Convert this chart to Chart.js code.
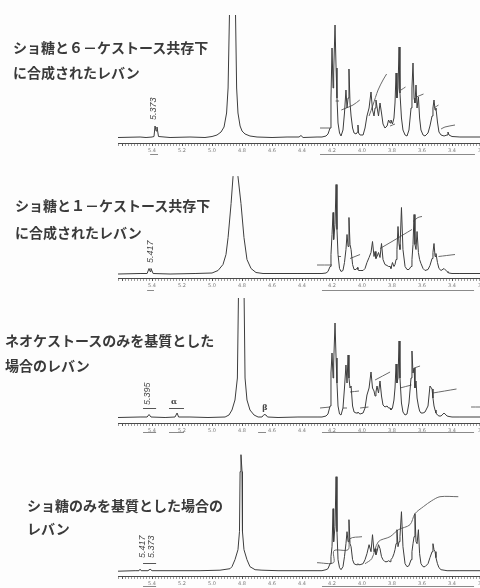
<!DOCTYPE html>
<html lang="ja">
<head>
<meta charset="utf-8">
<script src="https://cdn.jsdelivr.net/npm/chart.js@4.4.1/dist/chart.umd.min.js"></script>
<style>
  body { margin: 0; width: 480px; height: 588px; overflow: hidden; background: #fdfdfd; position: relative; }
  .ttl { position: absolute; font-family: "Noto Sans CJK JP"; font-weight: 700; font-size: 14px; line-height: 14px; color: #3a3a3a; white-space: nowrap; }
  canvas { position: absolute; left: 0; }
</style>
</head>
<body>
<canvas id="c1" width="500" height="148" style="top:15px"></canvas>
<canvas id="c2" width="500" height="122" style="top:176px"></canvas>
<canvas id="c3" width="500" height="145" style="top:298px"></canvas>
<canvas id="c4" width="500" height="148" style="top:440px"></canvas>
<script>
// panel captions
const titles1 = ['ショ糖と６－ケストース共存下', 'に合成されたレバン'];
const titles2 = ['ショ糖と１－ケストース共存下', 'に合成されたレバン'];
const titles3 = ['ネオケストースのみを基質とした', '場合のレバン'];
const titles4 = ['ショ糖のみを基質とした場合の', 'レバン'];

// chemical shift grid (ppm) of the levan region, shared by all four spectra
const levanPpm = [
  4.267, 4.240, 4.227, 4.213, 4.207, 4.200, 4.193, 4.189, 4.180, 4.173,
  4.167, 4.160, 4.150, 4.140, 4.127, 4.117, 4.107, 4.100, 4.093, 4.087,
  4.080, 4.073, 4.063, 4.053, 4.040, 4.030, 4.027, 4.023, 4.013, 3.993,
  3.980, 3.967, 3.953, 3.940, 3.930, 3.920, 3.913, 3.907, 3.900, 3.890,
  3.880, 3.870, 3.860, 3.847, 3.833, 3.823, 3.813, 3.807, 3.797, 3.787,
  3.780, 3.773, 3.767, 3.760, 3.753, 3.747, 3.737, 3.727, 3.713, 3.700,
  3.687, 3.673, 3.667, 3.660, 3.653, 3.647, 3.640, 3.633, 3.624, 3.616,
  3.607, 3.593, 3.580, 3.560, 3.547, 3.533, 3.527, 3.520, 3.513, 3.507,
  3.497, 3.487, 3.473, 3.453, 3.433, 3.427, 3.420, 3.400, 3.347, 3.213
];
// intensities on that grid
const levan1 = [
  1, 2, 4, 10, 40, 90, 50, 65, 113, 70,
  40, 15, 5, 2, 8, 25, 48, 30, 40, 69,
  35, 22, 10, 5, 4, 6, 13, 5, 3, 3,
  10, 22, 30, 46, 28, 22, 30, 38, 31, 22,
  35, 25, 14, 10, 12, 18, 15, 18, 14, 20,
  35, 65, 40, 50, 91, 45, 20, 8, 3, 2,
  8, 30, 50, 75, 40, 35, 53, 30, 41, 20,
  8, 3, 2, 5, 12, 22, 30, 38, 28, 30,
  16, 6, 3, 2, 3, 6, 3, 1.5, 1, 1
];
const levan2 = [
  1, 1.5, 3, 8, 20, 40, 62, 35, 50, 90,
  45, 20, 6, 3, 4, 12, 25, 40, 28, 57,
  30, 25, 10, 5, 5, 7, 5, 4, 4, 4,
  6, 12, 17, 22, 33, 18, 23, 16, 18, 22,
  17, 31, 15, 10, 9, 8, 8, 6, 12, 8,
  10, 15, 25, 48, 30, 25, 67, 25, 8, 5,
  5, 8, 15, 30, 60, 30, 25, 43, 22, 15,
  11, 6, 4, 5, 9, 16, 22, 31, 18, 21,
  12, 6, 4, 6, 3, 2, 1.5, 1, 1, 1
];
const levan3 = [
  1, 2, 4, 12, 45, 65, 40, 55, 95, 60,
  35, 12, 4, 3, 10, 30, 53, 35, 63, 40,
  30, 32, 12, 6, 5, 5, 6, 5, 4, 5,
  10, 23, 30, 46, 30, 27, 22, 26, 32, 25,
  37, 22, 13, 11, 12, 10, 10, 8, 10, 18,
  30, 54, 35, 40, 77, 40, 15, 6, 3, 4,
  15, 40, 67, 45, 50, 30, 37, 20, 12, 7,
  5, 5, 6, 12, 32, 29, 20, 12, 8, 5,
  3, 2, 2, 5, 2, 2, 1.5, 1, 1, 1
];
const levan4 = [
  1, 2, 3, 8, 15, 25, 63, 30, 45, 95,
  40, 12, 4, 2, 5, 15, 28, 40, 30, 52,
  28, 25, 12, 8, 7, 7, 8, 7, 7, 8,
  12, 18, 27, 20, 37, 20, 23, 17, 20, 27,
  23, 15, 12, 10, 10, 11, 10, 12, 14, 18,
  22, 28, 42, 25, 30, 35, 60, 25, 8, 5,
  6, 12, 20, 28, 35, 58, 30, 28, 42, 18,
  8, 5, 5, 8, 14, 20, 28, 22, 20, 14,
  8, 4, 2, 1.5, 1, 1, 1, 1, 1, 1
];

// low-field part of each spectrum: [ppm, intensity] (anomeric signals and HDO)
const left1 = [[5.627,0.5],[5.48,1],[5.44,0.5],[5.4,1],[5.387,1.5],[5.38,12],[5.373,7],[5.367,11],[5.357,1.5],[5.28,0.5],[5.147,1],[5.047,0.5],[5.0,1.5],[4.967,3],[4.94,6],[4.92,11],[4.903,25],[4.893,50],[4.883,130],[4.864,400],[4.844,130],[4.836,50],[4.827,25],[4.813,12],[4.8,7],[4.78,4],[4.747,2],[4.7,1],[4.6,0.5],[4.5,1],[4.42,1],[4.407,2.5],[4.393,0.5],[4.3,1]];
const left2 = [[5.627,0.5],[5.48,1],[5.433,1],[5.42,6],[5.413,3],[5.407,6],[5.393,1],[5.28,0.5],[5.113,1],[5.0,1.5],[4.96,4],[4.927,10],[4.907,20],[4.893,37],[4.873,71],[4.86,98],[4.843,300],[4.827,98],[4.807,71],[4.787,37],[4.767,15],[4.74,6],[4.707,2],[4.66,1],[4.56,1],[4.427,1],[4.3,1]];
const left3 = [[5.627,0.5],[5.48,1],[5.433,1],[5.42,3.5],[5.407,1],[5.313,0.5],[5.247,1],[5.233,5],[5.223,1],[5.147,1],[5.027,0.5],[4.913,1],[4.887,3],[4.867,8],[4.847,18],[4.831,40],[4.824,120],[4.806,400],[4.786,120],[4.78,40],[4.767,18],[4.747,8],[4.72,3],[4.693,1],[4.667,1],[4.653,3.5],[4.64,3],[4.63,1],[4.56,0.5],[4.427,1],[4.3,1]];
const left4 = [[5.627,0.5],[5.513,1],[5.487,1],[5.48,2.5],[5.473,1],[5.427,1],[5.413,2.5],[5.4,1],[5.28,1],[5.08,1],[4.947,1.5],[4.88,3],[4.867,5],[4.847,12],[4.827,22],[4.817,40],[4.813,100],[4.807,117],[4.8,100],[4.797,40],[4.787,22],[4.767,12],[4.747,5],[4.713,2],[4.667,1.5],[4.56,1],[4.427,1],[4.3,1]];

// integral traces, one list of [ppm, height] per segment
const integ1 = [
  [[4.28,10],[4.213,10]],
  [[4.176,37],[4.153,37]],
  [[4.138,28],[4.06,33],[4.015,38]],
  [[3.953,22],[3.927,33],[3.893,48],[3.86,58],[3.836,64]],
  [[3.813,12],[3.78,14]],
  [[3.74,48],[3.71,51]],
  [[3.638,41],[3.59,44]],
  [[3.52,30],[3.49,33]],
  [[3.473,9],[3.447,11],[3.38,13]]
];
const integ2 = [
  [[4.3,9.5],[4.2,9.5]],
  [[4.16,18],[4.14,18]],
  [[4.08,16],[4.013,20]],
  [[3.88,26],[3.8,33],[3.667,45]],
  [[3.66,53],[3.627,57],[3.6,58]],
  [[3.49,18],[3.38,20]]
];
const integ3 = [
  [[4.28,10],[4.213,11]],
  [[4.127,10],[4.1,10]],
  [[4.08,26],[4.02,27]],
  [[4.013,10],[3.957,11]],
  [[3.913,38],[3.813,46]],
  [[3.747,30],[3.67,33]],
  [[3.653,50],[3.613,52]],
  [[3.527,25],[3.37,29]],
  [[3.273,11],[3.213,11]]
];
const integ4 = [
  [[4.3,9],[4.19,9],[4.187,21],[4.093,22],[4.08,33],[4.0,35]],
  [[3.98,8],[3.935,13],[3.891,30],[3.813,35],[3.757,42],[3.68,47],[3.647,58],[3.591,65],[3.535,71],[3.48,75],[3.358,75]]
];

// peak annotations: [text, ppm, height, 'v' rotated | 'h' upright]
const notes1 = [['5.373', 5.387, 18, 'v']];
const notes2 = [['5.417', 5.407, 11.5, 'v']];
const notes3 = [['5.395', 5.427, 13, 'v'], ['α', 5.253, 12, 'h'], ['β', 4.647, 6, 'h']];
const notes4 = [['5.417', 5.463, 13.7, 'v'], ['5.373', 5.403, 13.7, 'v']];

// short bars over small peaks: [ppm from, ppm to, height]
const bars3 = [[5.46, 5.373, 10], [5.287, 5.187, 10]];
const bars4 = [[5.46, 5.373, 9]];

// integral ranges marked under the axis: [ppm from, ppm to]
const ranges1 = [[4.28, 3.247], [5.413, 5.36]];
const ranges2 = [[4.267, 3.253], [5.433, 5.387]];
const ranges3 = [[4.267, 3.253], [5.46, 5.373], [5.287, 5.187], [4.693, 4.64]];
const ranges4 = [[4.267, 3.253], [5.46, 5.373]];

// put the captions on the page
[[titles1, 13, 40, 65], [titles2, 15, 198, 225], [titles3, 5, 333, 358], [titles4, 27, 498, 521]]
  .forEach(([lines, left, t1, t2]) => {
    lines.forEach((txt, i) => {
      const d = document.createElement('div');
      d.className = 'ttl';
      d.style.left = left + 'px';
      d.style.top = (i === 0 ? t1 : t2) + 'px';
      d.textContent = txt;
      document.body.appendChild(d);
    });
  });

const isMajor = (v) => Math.abs(v * 5 - Math.round(v * 5)) < 1e-6;

const decor = {
  id: 'decor',
  afterDatasetsDraw(chart, args, opts) {
    const { ctx, scales: { x, y } } = chart;
    ctx.save();
    ctx.fillStyle = '#474747';
    ctx.strokeStyle = '#555';
    ctx.lineWidth = 1;
    opts.notes.forEach(([txt, p, v, dir]) => {
      ctx.save();
      ctx.translate(x.getPixelForValue(p), y.getPixelForValue(v));
      if (dir === 'v') {
        ctx.rotate(-Math.PI / 2);
        ctx.font = 'italic 9px "Liberation Sans"';
        ctx.textAlign = 'left';
        ctx.textBaseline = 'middle';
      } else {
        ctx.font = 'bold 8px "DejaVu Serif"';
        ctx.textAlign = 'center';
        ctx.textBaseline = 'bottom';
      }
      ctx.fillText(txt, 0, 0);
      ctx.restore();
    });
    opts.bars.forEach(([a, b, v]) => {
      const py = Math.round(y.getPixelForValue(v)) + 0.5;
      ctx.beginPath();
      ctx.moveTo(x.getPixelForValue(a), py);
      ctx.lineTo(x.getPixelForValue(b), py);
      ctx.stroke();
    });
    const by = Math.round(x.top + opts.rangeGap) + 0.5;
    ctx.strokeStyle = '#8a8a8a';
    opts.ranges.forEach(([a, b]) => {
      ctx.beginPath();
      ctx.moveTo(x.getPixelForValue(a), by);
      ctx.lineTo(x.getPixelForValue(b), by);
      ctx.stroke();
    });
    ctx.restore();
  }
};

function segmentsToPoints(segs) {
  const pts = [];
  segs.forEach((seg, i) => {
    if (i > 0) pts.push({ x: seg[0][0], y: null });
    seg.forEach(([p, v]) => pts.push({ x: p, y: v }));
  });
  return pts;
}

function drawPanel(id, left, levan, integ, notes, bars, ranges, yMin, yMax, axisH, rangeGap) {
  const spectrum = left.map(([p, v]) => ({ x: p, y: v }))
    .concat(levanPpm.map((p, i) => ({ x: p, y: levan[i] })));
  return new Chart(document.getElementById(id), {
    type: 'line',
    data: {
      datasets: [
        { data: spectrum, borderColor: '#3d3d3d', borderWidth: 1, pointRadius: 0, tension: 0 },
        { data: segmentsToPoints(integ), borderColor: '#6a6a6a', borderWidth: 1, pointRadius: 0, tension: 0.3, spanGaps: false }
      ]
    },
    options: {
      responsive: false,
      animation: false,
      events: [],
      layout: { padding: { left: 118, right: 18, top: 0, bottom: 0 } },
      plugins: {
        legend: { display: false },
        tooltip: { enabled: false },
        decor: { notes, bars, ranges, rangeGap }
      },
      scales: {
        x: {
          type: 'linear',
          reverse: true,
          min: 3.2,
          max: 5.627,
          afterFit: (s) => { s.height = axisH; },
          border: { display: true, color: '#4a4a4a', width: 1 },
          grid: {
            drawOnChartArea: false,
            drawTicks: true,
            tickLength: 3,
            tickColor: (c) => (c.tick && isMajor(c.tick.value) ? '#555' : '#a0a0a0')
          },
          ticks: {
            stepSize: 0.02,
            autoSkip: false,
            maxRotation: 0,
            padding: 2,
            color: '#7a7a7a',
            font: { size: 5, family: 'DejaVu Sans' },
            callback: (v) => (isMajor(v) && v < 5.45 ? (Math.round(v * 5) / 5).toFixed(1) : '')
          }
        },
        y: { display: false, min: yMin, max: yMax }
      }
    },
    plugins: [decor]
  });
}

drawPanel('c1', left1, levan1, integ1, notes1, [], ranges1, -5, 123, 20, 11);
drawPanel('c2', left2, levan2, integ2, notes2, [], ranges2, -3.5, 98.5, 20, 12);
drawPanel('c3', left3, levan3, integ3, notes3, bars3, ranges3, -5, 120, 20, 9);
drawPanel('c4', left4, levan4, integ4, notes4, bars4, ranges4, -4.3, 131.7, 12, 10);
</script>
</body>
</html>
